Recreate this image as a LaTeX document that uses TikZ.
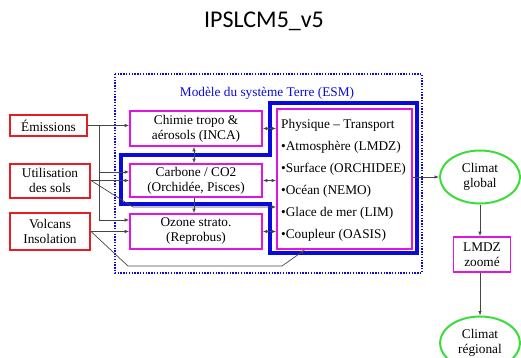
\documentclass[tikz,border=0pt]{standalone}
\usepackage{fontspec}
\setmainfont{Liberation Serif}
\newfontfamily\titlefont{Carlito}
\usetikzlibrary{arrows.meta,shapes.geometric}

\definecolor{forcered}{RGB}{230,30,35}
\definecolor{modmag}{RGB}{225,20,225}
\definecolor{climgreen}{RGB}{60,220,60}
\definecolor{esmblue}{RGB}{10,10,220}
\definecolor{wire}{RGB}{70,70,70}

\tikzset{
  forcing/.style={draw=forcered, line width=2pt, minimum width=80pt, align=center, inner sep=1pt},
  module/.style={draw=modmag, line width=1.6pt, minimum width=132pt, align=center, inner sep=1pt},
  climat/.style={draw=climgreen, line width=2pt, ellipse, minimum width=80pt, minimum height=53pt, align=center, inner sep=0pt},
  link/.style={wire, line width=0.7pt, -{Latex[length=4.5pt,width=3.5pt]}},
  duplex/.style={wire, line width=0.7pt, {Latex[length=4.5pt,width=3.5pt]}-{Latex[length=4.5pt,width=3.5pt]}},
}

\begin{document}
\begin{tikzpicture}[x=1pt, y=-1pt, font=\fontsize{13.3}{15}\selectfont]
    \useasboundingbox (0,0) rectangle (521,358);
    \node[font=\titlefont\fontsize{24}{26}\selectfont] (title) at (264,21) {IPSLCM5\_v5};

    % ESM frame
    \draw[esmblue, line width=1.6pt, dash pattern=on 1.4pt off 1.4pt] (115,74) rectangle (422,273);
    \node[text=esmblue] (esm) at (267,93) {Modèle du système Terre (ESM)};
    \draw[esmblue, line width=4.5pt] (121,155) -- (270,155) -- (270,103) -- (417,103)
        -- (417,253) -- (270,253) -- (270,204) -- (121,204) -- cycle;

    % forcings
    \node[forcing, minimum width=77pt, minimum height=21pt] (emis) at (48.5,125.5) {Émissions};
    \node[forcing, minimum height=34pt] (util) at (50,180.5) {Utilisation\\des sols};
    \node[forcing, minimum height=37pt] (volc) at (50,231.5) {Volcans\\Insolation};

    % modules
    \node[module, minimum height=35pt] (chim) at (196,128.5) {Chimie tropo \&\\aérosols (INCA)};
    \node[module, minimum height=33pt] (carb) at (196,180.5) {Carbone / CO2\\(Orchidée, Pisces)};
    \node[module, minimum height=35pt] (ozone) at (196,231.5) {Ozone strato.\\(Reprobus)};
    \node[module, minimum width=135pt, minimum height=140pt] (phys) at (344.5,179) {};
    \node[anchor=north west, align=left, inner sep=0pt, font=\fontsize{13.3}{22}\selectfont] (physlist) at (281,119)
        {Physique -- Transport\\\textbullet Atmosphère (LMDZ)\\\textbullet Surface (ORCHIDEE)\\
         \textbullet Océan (NEMO)\\\textbullet Glace de mer (LIM)\\\textbullet Coupleur (OASIS)};

    % climate
    \node[climat] (glob) at (480,177) {Climat\\global};
    \node[draw=modmag, line width=1.6pt, minimum width=57pt, minimum height=35pt, align=center, inner sep=0pt] (lmdz) at (482,254.5) {LMDZ\\zoomé};
    \node[climat] (regio) at (480,343) {Climat\\régional};

    % forcing links
    \coordinate (split) at (99,125.5);
    \draw[link] (emis.east) -- (emis.east -| chim.west);
    \draw[link] (split) |- ([yshift=8.5pt]carb.west);
    \draw[link] (split) |- ([yshift=11.5pt]ozone.west);
    \draw[link] (util.east) -- (util.east -| carb.west);
    \draw[link] (volc.east) -- (volc.east -| ozone.west);
    \draw[link] (util.east) -- (133,207) -- ([yshift=-28pt]phys.west);
    \draw[link] (volc.east) -- (128,266) -- (282,266) -- ([xshift=-39.5pt]phys.south);

    % couplings
    \draw[duplex] (chim.east) -- (chim.east -| phys.west);
    \draw[duplex] (carb.east) -- (carb.east -| phys.west);
    \draw[duplex] (ozone.east) -- (ozone.east -| phys.west);
    \draw[duplex] ([xshift=-2pt]chim.south) -- ([xshift=-2pt]carb.north);
    \draw[link] ([xshift=-2pt]carb.south) -- ([xshift=-2pt]ozone.north);

    % downscaling
    \draw[link] (phys.east |- glob.west) -- (glob.west);
    \draw[link] (glob.south) -- (glob.south |- lmdz.north);
    \draw[link] (lmdz.south -| glob.south) -- (regio.north);
\end{tikzpicture}
\end{document}
